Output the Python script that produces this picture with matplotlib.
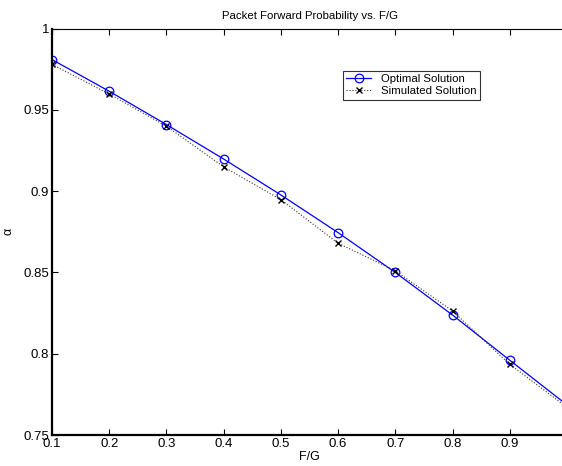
import matplotlib.pyplot as plt
from matplotlib.ticker import MultipleLocator

# data
fg = [0.1, 0.2, 0.3, 0.4, 0.5, 0.6, 0.7, 0.8, 0.9, 1.0]
optimal = [0.981, 0.9615, 0.941, 0.9198, 0.8977, 0.8745, 0.850, 0.8238, 0.796, 0.7685]
simulated = [0.978, 0.9598, 0.940, 0.915, 0.8948, 0.868, 0.851, 0.8263, 0.7935, 0.767]

xtick_labels = ['0.1', '0.2', '0.3', '0.4', '0.5', '0.6', '0.7', '0.8', '0.9']
ytick_labels = ['0.75', '0.8', '0.85', '0.9', '0.95', '1']

plt.rcParams['font.family'] = ['Liberation Sans', 'DejaVu Sans']

fig = plt.figure(figsize=(5.62, 4.66), dpi=100)
ax = fig.add_axes([52 / 562, 1 - 435 / 466, 515 / 562, (435 - 28.7) / 466])

ax.plot(fg, optimal, color='#0000ff', lw=0.9, marker='o', ms=6.2, mfc='none',
        mec='#0000ff', mew=0.9, label='Optimal Solution')
ax.plot(fg, simulated, color='#333333', lw=0.8, ls=':', marker='x', ms=4.5,
        mew=1.0, mec='black', label='Simulated Solution')

ax.set_xlim(0.1, 1.0)
ax.set_ylim(0.75, 1.0)
ax.set_xticks([float(t) for t in xtick_labels])
ax.set_xticklabels(xtick_labels)
ax.set_yticks([float(t) for t in ytick_labels])
ax.set_yticklabels(ytick_labels)
ax.tick_params(direction='in', top=True, right=False, length=4, width=0.8,
               labelsize=9.5, pad=2)

for side in ['left', 'bottom']:
    ax.spines[side].set_linewidth(1.6)
ax.spines['top'].set_linewidth(0.8)

ax.set_title('Packet Forward Probability vs. F/G', fontsize=8.2, pad=7)
ax.set_xlabel('F/G', fontsize=9, labelpad=1)
ax.set_ylabel('\u03b1', fontsize=9)
ax.yaxis.set_label_coords(-37 / 515, 0.5)

leg = ax.legend(loc='upper left', bbox_to_anchor=(291 / 515, (435 - 71) / 406.3),
                fontsize=8.2, frameon=True, fancybox=False, edgecolor='black',
                borderpad=0.3, handlelength=2.2, labelspacing=0.15,
                borderaxespad=0)
leg.get_frame().set_linewidth(0.8)

plt.savefig('out.png', dpi=100)
